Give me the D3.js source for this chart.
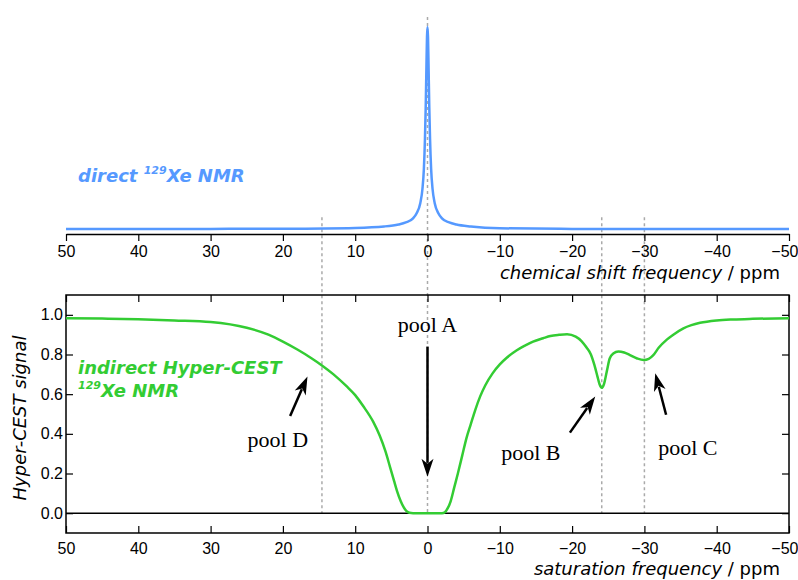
<!DOCTYPE html>
<html>
<head>
<meta charset="utf-8">
<script src="https://cdn.jsdelivr.net/npm/d3@7"></script>
<style>
  body { margin: 0; background: #fff; }
</style>
</head>
<body>
<svg></svg>
<script>
var width = 798;
var height = 580;

// direct 129Xe spectrum (ppm, intensity)
var directPpm = [50, 30, 20, 10, 6, 4, 3, 2, 1.5, 1.0, 0.7, 0.5, 0.35, 0.25, 0.15, 0.07, 0,
                 -0.07, -0.15, -0.25, -0.35, -0.5, -0.7, -1.0, -1.5, -2, -3, -4, -6, -10, -20, -30, -50];
var directInt = [0.002, 0.003, 0.004, 0.008, 0.015, 0.025, 0.035, 0.055, 0.08, 0.13, 0.2, 0.3, 0.45, 0.6, 0.8, 0.95, 1,
                 0.95, 0.8, 0.6, 0.45, 0.3, 0.2, 0.13, 0.08, 0.055, 0.035, 0.025, 0.015, 0.006, 0.003, 0.002, 0.002];

// Hyper-CEST z-spectrum (ppm, signal)
var cestPpm = [50, 45, 40, 35, 30, 25, 22, 20, 18, 16, 14.6, 13, 11.2, 10, 8.9, 7.5, 6.6, 5.8, 5.2, 4.6, 4.2, 3.7,
               3.3, 2.9, 2.5, 2, 0, -2, -2.4, -2.8, -3.2, -3.7, -4.2, -4.8, -5.4, -6, -6.6, -7.3, -8, -9, -10, -11,
               -12.3, -13.5, -14.6, -16, -17, -18.2, -19.3, -20.5, -21.3, -22, -22.6, -23.1, -23.5, -23.8, -24.1,
               -24.4, -24.8, -25.2, -25.7, -26.4, -27.2, -28, -29, -29.9, -30.6, -31.2, -32, -33.1, -34, -35.4,
               -36.5, -37.7, -40, -42.3, -45, -50];
var cestSignal = [0.983, 0.981, 0.978, 0.972, 0.964, 0.935, 0.9, 0.865, 0.825, 0.78, 0.745, 0.70, 0.64, 0.595, 0.54,
                  0.46, 0.39, 0.31, 0.235, 0.16, 0.11, 0.06, 0.03, 0.01, 0.002, 0, 0, 0, 0.005, 0.025, 0.06, 0.13,
                  0.2, 0.29, 0.38, 0.45, 0.52, 0.59, 0.645, 0.705, 0.75, 0.785, 0.82, 0.845, 0.865, 0.882, 0.893,
                  0.899, 0.902, 0.89, 0.868, 0.835, 0.80, 0.745, 0.69, 0.65, 0.632, 0.65, 0.715, 0.78, 0.805, 0.815,
                  0.81, 0.797, 0.78, 0.772, 0.778, 0.795, 0.835, 0.875, 0.9, 0.932, 0.948, 0.96, 0.972, 0.977,
                  0.98, 0.983];

var xTicks = [50, 40, 30, 20, 10, 0, -10, -20, -30, -40, -50];
var yTicks = [0.0, 0.2, 0.4, 0.6, 0.8, 1.0];

// pool positions (ppm) for the dashed guides
var poolPpm = [14.6, 0, -24.1, -30];

// annotations, in data coordinates of the lower panel
var poolNames = ["pool A", "pool B", "pool C", "pool D"];
var arrowTip = [[0, 0.183], [-23.2, 0.588], [-31.5, 0.706], [16.6, 0.689]];
var arrowTail = [[0, 0.84], [-19.7, 0.406], [-33.0, 0.496], [19.0, 0.49]];
var labelAt = [[0, 0.915], [-14.3, 0.268], [-36.0, 0.293], [20.7, 0.336]];

var blue = "#5599ff";
var green = "#33cc33";

var svg = d3.select("svg").attr("width", width).attr("height", height);

var x = d3.scaleLinear().domain([50, -50]).range([66, 789]);
var yTop = d3.scaleLinear().domain([0, 1]).range([229.5, 27]);
var yBot = d3.scaleLinear().domain([-0.1, 1.1]).range([533, 295]);

var fmtX = d3.format("d");

// dashed guides
poolPpm.forEach(function(p) {
  svg.append("line")
    .attr("x1", x(p)).attr("x2", x(p))
    .attr("y1", p === 0 ? yTop(1.05) : yTop(0.06))
    .attr("y2", yBot(0))
    .attr("stroke", "#aaaaaa")
    .attr("stroke-width", 1.5)
    .attr("stroke-dasharray", "3,3");
});

// ---- top panel ----
var topAxis = svg.append("g")
  .attr("transform", "translate(0,234)")
  .call(d3.axisBottom(x).tickValues(xTicks).tickFormat(fmtX).tickSizeInner(7).tickSizeOuter(0).tickPadding(5));

var line = d3.line().curve(d3.curveMonotoneX);

svg.append("path")
  .attr("d", line(directPpm.map(function(p, i) { return [x(p), yTop(directInt[i])]; })))
  .attr("fill", "none")
  .attr("stroke", blue)
  .attr("stroke-width", 2.5);

var directLabel = svg.append("text")
  .attr("x", 78).attr("y", 181.5)
  .attr("fill", blue)
  .style("font-family", "DejaVu Sans")
  .style("font-weight", "bold")
  .style("font-style", "italic")
  .style("font-size", "18px");
directLabel.append("tspan").text("direct ");
directLabel.append("tspan").attr("dy", -8).style("font-size", "11px").text("129");
directLabel.append("tspan").attr("dy", 8).text("Xe NMR");

svg.append("text")
  .attr("x", 780).attr("y", 279)
  .attr("text-anchor", "end")
  .style("font-family", "DejaVu Sans")
  .style("font-size", "18px")
  .call(function(t) {
    t.append("tspan").style("font-style", "italic").text("chemical shift frequency");
    t.append("tspan").text(" / ppm");
  });

// ---- bottom panel ----
svg.append("rect")
  .attr("x", 66).attr("y", 295)
  .attr("width", 789 - 66).attr("height", 533 - 295)
  .attr("fill", "none")
  .attr("stroke", "#000")
  .attr("stroke-width", 1.5);

svg.append("line")
  .attr("x1", 66).attr("x2", 789)
  .attr("y1", yBot(0)).attr("y2", yBot(0))
  .attr("stroke", "#000")
  .attr("stroke-width", 1.5);

var botAxis = svg.append("g")
  .attr("transform", "translate(0,533)")
  .call(d3.axisBottom(x).tickValues(xTicks).tickFormat(fmtX).tickSizeInner(-7).tickSizeOuter(0).tickPadding(10));

var topTicks = svg.append("g")
  .attr("transform", "translate(0,295)")
  .call(d3.axisTop(x).tickValues(xTicks).tickFormat("").tickSizeInner(-7).tickSizeOuter(0));

var leftAxis = svg.append("g")
  .attr("transform", "translate(66,0)")
  .call(d3.axisLeft(yBot).tickValues(yTicks).tickFormat(d3.format(".1f")).tickSizeInner(-7).tickSizeOuter(0).tickPadding(3));

var rightTicks = svg.append("g")
  .attr("transform", "translate(789,0)")
  .call(d3.axisRight(yBot).tickValues(yTicks).tickFormat("").tickSizeInner(-7).tickSizeOuter(0));

[topAxis, botAxis, topTicks, leftAxis, rightTicks].forEach(function(g) {
  g.select(".domain").attr("stroke-width", 1.5);
  g.selectAll(".tick line").attr("stroke-width", 1.2);
  g.selectAll("text")
    .style("font-family", "Liberation Sans, Arial, sans-serif")
    .style("font-size", "16px")
    .attr("fill", "#000");
});
[topTicks, rightTicks, leftAxis, botAxis].forEach(function(g) { g.select(".domain").remove(); });

// keep the last x label inside the page
[topAxis, botAxis].forEach(function(g) {
  g.selectAll(".tick").filter(function(d) { return d === -50; })
    .select("text").attr("text-anchor", "end").attr("x", 9);
});

svg.append("path")
  .attr("d", line(cestPpm.map(function(p, i) { return [x(p), yBot(cestSignal[i])]; })))
  .attr("fill", "none")
  .attr("stroke", green)
  .attr("stroke-width", 2.5);

var ind = svg.append("text")
  .attr("fill", green)
  .style("font-family", "DejaVu Sans")
  .style("font-weight", "bold")
  .style("font-style", "italic")
  .style("font-size", "18px");
ind.append("tspan").attr("x", 78).attr("y", 373.5).text("indirect Hyper-CEST");
var ind2 = svg.append("text")
  .attr("x", 78).attr("y", 396.5)
  .attr("fill", green)
  .style("font-family", "DejaVu Sans")
  .style("font-weight", "bold")
  .style("font-style", "italic")
  .style("font-size", "18px");
ind2.append("tspan").attr("dy", -8).style("font-size", "11px").text("129");
ind2.append("tspan").attr("dy", 8).text("Xe NMR");

svg.append("text")
  .attr("x", 780).attr("y", 575)
  .attr("text-anchor", "end")
  .style("font-family", "DejaVu Sans")
  .style("font-size", "18px")
  .call(function(t) {
    t.append("tspan").style("font-style", "italic").text("saturation frequency");
    t.append("tspan").text(" / ppm");
  });

svg.append("text")
  .attr("transform", "translate(26,418) rotate(-90)")
  .attr("text-anchor", "middle")
  .style("font-family", "DejaVu Sans")
  .style("font-style", "italic")
  .style("font-size", "18px")
  .text("Hyper-CEST signal");

// arrows + pool labels
poolNames.forEach(function(name, i) {
  var x0 = x(arrowTail[i][0]), y0 = yBot(arrowTail[i][1]);
  var x1 = x(arrowTip[i][0]), y1 = yBot(arrowTip[i][1]);
  var dx = x1 - x0, dy = y1 - y0, len = Math.sqrt(dx * dx + dy * dy);
  var ux = dx / len, uy = dy / len, nx = -uy, ny = ux;
  var hl = 18, hw = 6;
  var bx = x1 - ux * hl, by = y1 - uy * hl;
  svg.append("line")
    .attr("x1", x0).attr("y1", y0)
    .attr("x2", bx + ux * 4).attr("y2", by + uy * 4)
    .attr("stroke", "#000")
    .attr("stroke-width", 2.5);
  svg.append("path")
    .attr("d", "M" + x1 + "," + y1 +
      "L" + (bx + nx * hw) + "," + (by + ny * hw) +
      "L" + (bx + ux * 5) + "," + (by + uy * 5) +
      "L" + (bx - nx * hw) + "," + (by - ny * hw) + "Z")
    .attr("fill", "#000");
  svg.append("text")
    .attr("x", x(labelAt[i][0])).attr("y", yBot(labelAt[i][1]))
    .attr("text-anchor", "middle")
    .style("font-family", "Liberation Serif, Times New Roman, serif")
    .style("font-size", "22px")
    .text(name);
});
</script>
</body>
</html>
